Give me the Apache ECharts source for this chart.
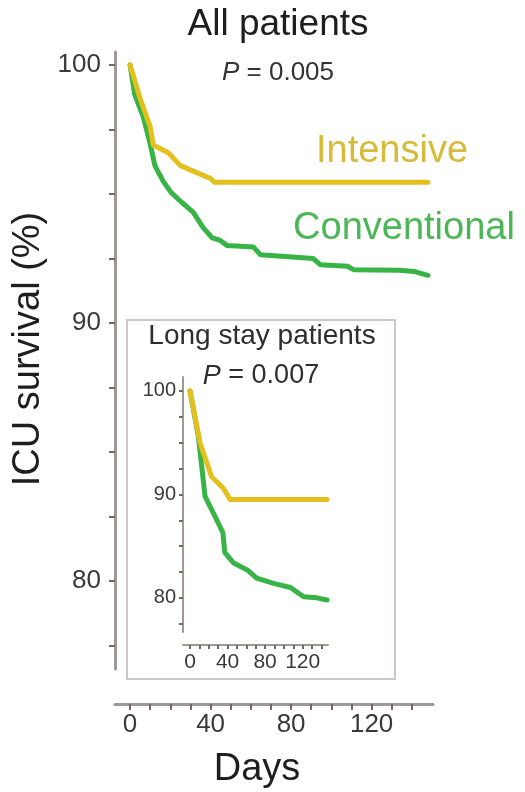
<!DOCTYPE html>
<html>
<head>
<meta charset="utf-8">
<script src="https://cdn.jsdelivr.net/npm/echarts@6/dist/echarts.min.js"></script>
<style>
  html, body { margin: 0; padding: 0; background: #ffffff; }
  #chart { width: 525px; height: 792px; }
</style>
</head>
<body>
<div id="chart"></div>
<script>
// ICU survival curves: all patients (main panel) and long stay patients (inset)

// Main panel, all patients
const allDaysIntensive = [0, 5, 10, 11.5, 19, 25, 34, 40, 42, 148];
const allSurvIntensive = [100, 98.7, 97.6, 96.9, 96.6, 96.1, 95.8, 95.6, 95.45, 95.45];
const allDaysConventional = [0, 2.3, 6.5, 9.8, 12.3, 16.4, 20.4, 25.9, 31.3, 36.3, 40.8, 44.8, 48.3, 61.2, 64.7, 91, 94.5, 108, 111, 134, 141, 148];
const allSurvConventional = [100, 98.85, 98.0, 97.0, 96.1, 95.5, 95.05, 94.66, 94.3, 93.7, 93.3, 93.2, 93.0, 92.95, 92.65, 92.5, 92.26, 92.2, 92.07, 92.05, 92.0, 91.85];

// Inset, long stay patients
const longDaysIntensive = [0, 10.7, 23, 35.5, 42.6, 146];
const longSurvIntensive = [100, 95.0, 91.7, 90.6, 89.5, 89.5];
const longDaysConventional = [0, 8.9, 16, 27, 35, 37, 46, 61, 71, 89, 107, 121, 135, 146];
const longSurvConventional = [100, 95.6, 89.8, 87.8, 86.3, 84.4, 83.4, 82.7, 81.9, 81.4, 81.0, 80.1, 80.0, 79.8];

// Axis ticks and labels
const dayTicks = [0, 10, 20, 30, 40, 50, 60, 70, 80, 90, 100, 110, 120, 130, 140];
const dayLabels = [0, 40, 80, 120];
const survTicks = [77.5, 80, 82.5, 85, 87.5, 90, 92.5, 95, 97.5, 100];
const survLabels = [80, 90, 100];

const GOLD = '#e4c01e';
const GREEN = '#38b447';
const AXIS = '#9e9896';
const FONT = '"Liberation Sans", Arial, Helvetica, sans-serif';

const pairs = (xs, ys) => xs.map((x, i) => [x, ys[i]]);

function dayAxis(gridIndex, min, max, offset, fontSize, tickLen, margin) {
  return {
    type: 'value', gridIndex, min, max, offset,
    axisLine: { show: true, onZero: false, lineStyle: { color: AXIS, width: gridIndex === 0 ? 3 : 2 } },
    axisTick: { show: true, customValues: dayTicks, length: tickLen, lineStyle: { color: '#6f6a68', width: 2 } },
    axisLabel: { show: true, customValues: dayLabels, margin, color: '#3a3a3a', fontSize, fontFamily: FONT },
    splitLine: { show: false }
  };
}
function survAxis(gridIndex, min, max, fontSize, tickLen, margin) {
  return {
    type: 'value', gridIndex, min, max,
    axisLine: { show: true, onZero: false, lineStyle: { color: AXIS, width: gridIndex === 0 ? 3 : 2 } },
    axisTick: { show: true, customValues: survTicks, length: tickLen, lineStyle: { color: '#6f6a68', width: 2 } },
    axisLabel: { show: true, customValues: survLabels, margin, color: '#3a3a3a', fontSize, fontFamily: FONT },
    splitLine: { show: false }
  };
}
function curve(name, xi, data, color) {
  return {
    name, type: 'line', xAxisIndex: xi, yAxisIndex: xi, data,
    showSymbol: false, symbol: 'none', animation: false,
    lineStyle: { color, width: 5, cap: 'round', join: 'round' }
  };
}

const chart = echarts.init(document.getElementById('chart'), null, { renderer: 'canvas' });
chart.setOption({
  backgroundColor: '#ffffff',
  animation: false,
  grid: [
    { left: 115, top: 52, width: 318, height: 617 },
    { left: 183, top: 377, width: 145, height: 255 }
  ],
  xAxis: [
    dayAxis(0, -7.5, 150.5, 35, 26, 6, 8),
    dayAxis(1, -7.5, 147, 13, 21, 4, 7)
  ],
  yAxis: [
    survAxis(0, 76.6, 100.5, 26, 6, 14),
    survAxis(1, 76.7, 101.35, 20, 4, 7)
  ],
  series: [
    curve('Conventional', 0, pairs(allDaysConventional, allSurvConventional), GREEN),
    curve('Intensive', 0, pairs(allDaysIntensive, allSurvIntensive), GOLD),
    curve('Conventional', 1, pairs(longDaysConventional, longSurvConventional), GREEN),
    curve('Intensive', 1, pairs(longDaysIntensive, longSurvIntensive), GOLD)
  ],
  graphic: [
    { type: 'rect', z: -1, shape: { x: 127, y: 320, width: 268, height: 359 },
      style: { fill: null, stroke: '#cdc6c6', lineWidth: 2 } },
    { type: 'text', x: 278, y: 25, style: { text: 'All patients', font: '37px ' + FONT, fill: '#1e1e1e', align: 'center', verticalAlign: 'middle' } },
    { type: 'text', x: 278, y: 73, style: { text: '{i|P} = 0.005', font: '26px ' + FONT, fill: '#333', align: 'center', verticalAlign: 'middle',
      rich: { i: { fontStyle: 'italic', fontSize: 26, fontFamily: FONT, fill: '#333' } } } },
    { type: 'text', x: 392, y: 152, style: { text: 'Intensive', font: '38px ' + FONT, fill: '#d6bb38', align: 'center', verticalAlign: 'middle' } },
    { type: 'text', x: 404, y: 229, style: { text: 'Conventional', font: '38px ' + FONT, fill: '#4bb655', align: 'center', verticalAlign: 'middle' } },
    { type: 'text', x: 29, y: 349, rotation: Math.PI / 2, style: { text: 'ICU survival (%)', font: '38px ' + FONT, fill: '#1e1e1e', align: 'center', verticalAlign: 'middle' } },
    { type: 'text', x: 257, y: 770, style: { text: 'Days', font: '38px ' + FONT, fill: '#1e1e1e', align: 'center', verticalAlign: 'middle' } },
    { type: 'text', x: 262, y: 336, style: { text: 'Long stay patients', font: '28px ' + FONT, fill: '#2e2e2e', align: 'center', verticalAlign: 'middle' } },
    { type: 'text', x: 261, y: 376, style: { text: '{i|P} = 0.007', font: '27px ' + FONT, fill: '#2e2e2e', align: 'center', verticalAlign: 'middle',
      rich: { i: { fontStyle: 'italic', fontSize: 27, fontFamily: FONT, fill: '#2e2e2e' } } } }
  ]
});
</script>
</body>
</html>
